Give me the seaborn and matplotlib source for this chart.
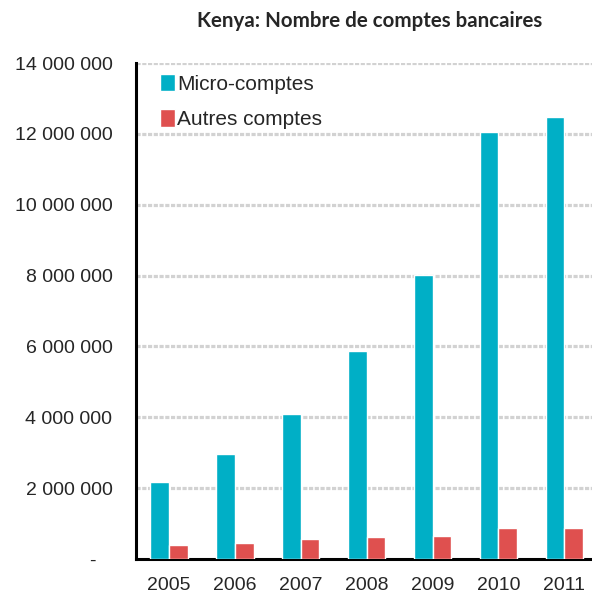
import matplotlib
matplotlib.use("Agg")
import matplotlib.pyplot as plt
import seaborn as sns
import pandas as pd
from matplotlib.ticker import FixedLocator

years = ["2005", "2006", "2007", "2008", "2009", "2010", "2011"]
micro = [2180000, 2960000, 4090000, 5880000, 8010000, 12040000, 12480000]
autres = [400000, 440000, 570000, 620000, 660000, 880000, 880000]
series = ["Micro-comptes", "Autres comptes"]
yticks = [0, 2000000, 4000000, 6000000, 8000000, 10000000, 12000000, 14000000]
ytick_labels = ["-   ", "2 000 000", "4 000 000", "6 000 000", "8 000 000",
                "10 000 000", "12 000 000", "14 000 000"]
title = "Kenya: Nombre de comptes bancaires"

df = pd.DataFrame({
    "year": years * 2,
    "value": micro + autres,
    "serie": [series[0]] * len(years) + [series[1]] * len(years),
})

sns.set_style("white")
plt.rcParams["font.family"] = ["Liberation Sans", "DejaVu Sans"]

fig = plt.figure(figsize=(5.92, 5.96), dpi=100)
ax = fig.add_axes([136 / 592, (596 - 559) / 596, 1 - 136 / 592, (559 - 63) / 596])

palette = {series[0]: "#00AFC6", series[1]: "#DF504F"}
sns.barplot(data=df, x="year", y="value", hue="serie", palette=palette,
            width=0.567, saturation=1, ax=ax, legend=True, zorder=3)

ax.set_xlim(-0.5, (592 - 136) / 65.9 - 0.5)
ax.set_ylim(0, 14000000)
ax.set_yticks(yticks)
ax.set_yticklabels(ytick_labels)
ax.set_xlabel("")
ax.set_ylabel("")

for y in yticks[1:]:
    ax.axhline(y, color="#D2D2D2", lw=2.3, ls=(0, (1.3, 0.5)), zorder=1)

for s in ["top", "right"]:
    ax.spines[s].set_visible(False)
for s in ["left", "bottom"]:
    ax.spines[s].set_linewidth(2.2)
    ax.spines[s].set_color("black")

ax.tick_params(axis="y", direction="in", length=5, width=2.2, labelsize=14, pad=17)
ax.tick_params(axis="x", which="major", length=0, labelsize=14, pad=13)
ax.xaxis.set_minor_locator(FixedLocator([i + 0.5 for i in range(len(years) - 1)]))
ax.tick_params(axis="x", which="minor", direction="in", length=5, width=2.2)

leg = ax.legend(loc="upper left", bbox_to_anchor=(0.035, 0.995), frameon=False,
                fontsize=15, handlelength=0.72, handleheight=0.9,
                handletextpad=0.1, labelspacing=0.75, borderaxespad=0)

fig.text(370 / 592, 1 - 21 / 596, title, ha="center", va="center",
         fontsize=14.8, fontweight="bold", family=["Lato", "DejaVu Sans"])

fig.savefig("out.png", dpi=100)
